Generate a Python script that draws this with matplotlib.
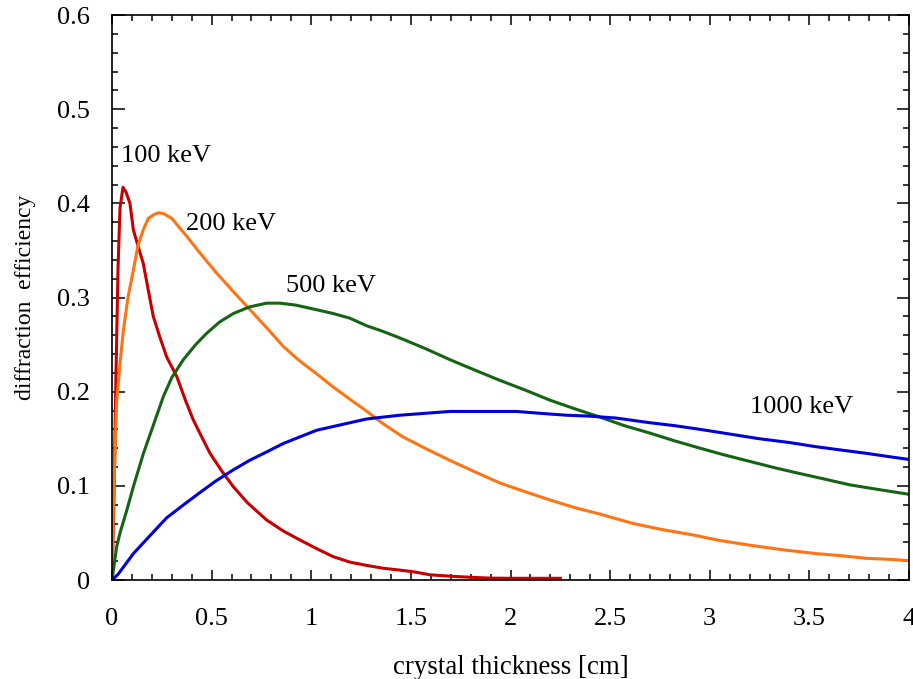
#!/usr/bin/env python3

import matplotlib
matplotlib.use("Agg")
import matplotlib.pyplot as plt
from matplotlib.ticker import MultipleLocator

# diffraction efficiency vs crystal thickness
x_100 = [0, 0.01, 0.02, 0.03, 0.04, 0.055, 0.07, 0.09, 0.107, 0.13, 0.157, 0.18, 0.207,
         0.24, 0.274, 0.325, 0.37, 0.408, 0.45, 0.492, 0.55, 0.609, 0.68, 0.776, 0.86,
         0.943, 1.03, 1.11, 1.194, 1.278, 1.36, 1.445, 1.52, 1.596, 1.7, 1.81, 1.9, 2.0,
         2.1, 2.25]
y_100 = [0, 0.09, 0.22, 0.33, 0.395, 0.417, 0.412, 0.400, 0.372, 0.355, 0.336, 0.31, 0.280,
         0.258, 0.237, 0.216, 0.19, 0.170, 0.152, 0.1345, 0.116, 0.099, 0.082, 0.0637, 0.052,
         0.0425, 0.033, 0.0248, 0.019, 0.0155, 0.0125, 0.0105, 0.0085, 0.0055, 0.004, 0.0028,
         0.002, 0.0018, 0.0018, 0.0018]
x_100_tail = [2.25, 4.0]
y_100_tail = [0, 0]

x_200 = [0, 0.007, 0.023, 0.04, 0.057, 0.08, 0.107, 0.13, 0.157, 0.182, 0.21, 0.233, 0.26,
         0.30, 0.375, 0.45, 0.525, 0.61, 0.693, 0.78, 0.86, 0.94, 1.027, 1.11, 1.194, 1.28,
         1.36, 1.46, 1.58, 1.696, 1.82, 1.947, 2.07, 2.198, 2.32, 2.449, 2.616, 2.75, 2.917,
         3.05, 3.2, 3.37, 3.535, 3.65, 3.787, 3.9, 4.0]
y_200 = [0, 0.08, 0.188, 0.23, 0.265, 0.30, 0.329, 0.355, 0.372, 0.384, 0.388, 0.390, 0.389,
         0.384, 0.365, 0.345, 0.326, 0.306, 0.287, 0.267, 0.248, 0.233, 0.219, 0.205, 0.192,
         0.179, 0.166, 0.152, 0.139, 0.127, 0.115, 0.103, 0.094, 0.085, 0.077, 0.070, 0.060,
         0.054, 0.0478, 0.042, 0.037, 0.032, 0.028, 0.026, 0.023, 0.022, 0.0205]

x_500 = [0, 0.023, 0.04, 0.074, 0.107, 0.157, 0.2, 0.258, 0.3, 0.358, 0.42, 0.475, 0.54,
         0.609, 0.69, 0.776, 0.843, 0.92, 1.027, 1.11, 1.194, 1.278, 1.36, 1.445, 1.57,
         1.696, 1.82, 1.947, 2.07, 2.198, 2.32, 2.449, 2.57, 2.70, 2.82, 2.951, 3.07, 3.20,
         3.33, 3.453, 3.58, 3.704, 3.85, 4.0]
y_500 = [0, 0.035, 0.05, 0.074, 0.099, 0.134, 0.160, 0.195, 0.215, 0.234, 0.250, 0.262, 0.274,
         0.283, 0.290, 0.294, 0.294, 0.292, 0.287, 0.283, 0.278, 0.270, 0.264, 0.257, 0.246,
         0.234, 0.223, 0.212, 0.202, 0.191, 0.182, 0.173, 0.164, 0.156, 0.148, 0.140, 0.133,
         0.126, 0.119, 0.113, 0.107, 0.101, 0.096, 0.091]

x_1000 = [0, 0.03, 0.107, 0.19, 0.274, 0.36, 0.442, 0.52, 0.609, 0.69, 0.776, 0.86, 0.943,
          1.027, 1.11, 1.194, 1.278, 1.36, 1.445, 1.57, 1.696, 1.85, 2.03, 2.15, 2.28, 2.4,
          2.53, 2.70, 2.82, 2.951, 3.1, 3.25, 3.4, 3.535, 3.66, 3.787, 3.9, 4.0]
y_1000 = [0, 0.006, 0.028, 0.047, 0.066, 0.080, 0.093, 0.105, 0.117, 0.127, 0.136, 0.145, 0.152,
          0.159, 0.163, 0.167, 0.171, 0.173, 0.175, 0.177, 0.179, 0.179, 0.179, 0.177, 0.175,
          0.174, 0.172, 0.167, 0.164, 0.160, 0.155, 0.150, 0.146, 0.1415, 0.138, 0.1345, 0.131,
          0.128]

labels = ["100 keV", "200 keV", "500 keV", "1000 keV"]
label_pos = [(0.045, 0.444), (0.373, 0.372), (0.873, 0.306), (3.20, 0.177)]

plt.rcParams["font.family"] = ["Liberation Serif", "DejaVu Serif"]
plt.rcParams["font.size"] = 19

fig = plt.figure(figsize=(9.13, 6.79), dpi=100)
ax = fig.add_axes([0.1227, 0.1458, 0.8729, 0.8321])

lw = 2.2
ax.plot(x_100, y_100, color="#c80000", lw=lw)
ax.plot(x_100_tail, y_100_tail, color="#c80000", lw=1.0, linestyle=":")
ax.plot(x_200, y_200, color="#ff7314", lw=lw)
ax.plot(x_500, y_500, color="#146414", lw=lw)
ax.plot(x_1000, y_1000, color="#0000dc", lw=lw)

for text, (tx, ty) in zip(labels, label_pos):
    ax.text(tx, ty, text, fontsize=19, va="baseline", ha="left")

ax.set_xlim(0, 4)
ax.set_ylim(0, 0.6)
ax.xaxis.set_major_locator(MultipleLocator(0.5))
ax.xaxis.set_minor_locator(MultipleLocator(0.1))
ax.yaxis.set_major_locator(MultipleLocator(0.1))
ax.yaxis.set_minor_locator(MultipleLocator(0.02))


def fmt(v, pos):
    return "%g" % round(v, 3)


ax.xaxis.set_major_formatter(plt.FuncFormatter(fmt))
ax.yaxis.set_major_formatter(plt.FuncFormatter(fmt))

ax.tick_params(axis="both", which="both", direction="in", top=True, right=True,
               width=1.1, labelsize=19)
ax.tick_params(axis="x", which="major", length=7, pad=20)
ax.tick_params(axis="y", which="major", length=9, pad=16)
ax.tick_params(axis="both", which="minor", length=4)
for sp in ax.spines.values():
    sp.set_linewidth(1.2)

ax.set_xlabel("crystal thickness [cm]", fontsize=19.4, labelpad=18)
ax.set_ylabel("diffraction  efficiency", fontsize=17, labelpad=15)

fig.savefig("out.png", dpi=100)
